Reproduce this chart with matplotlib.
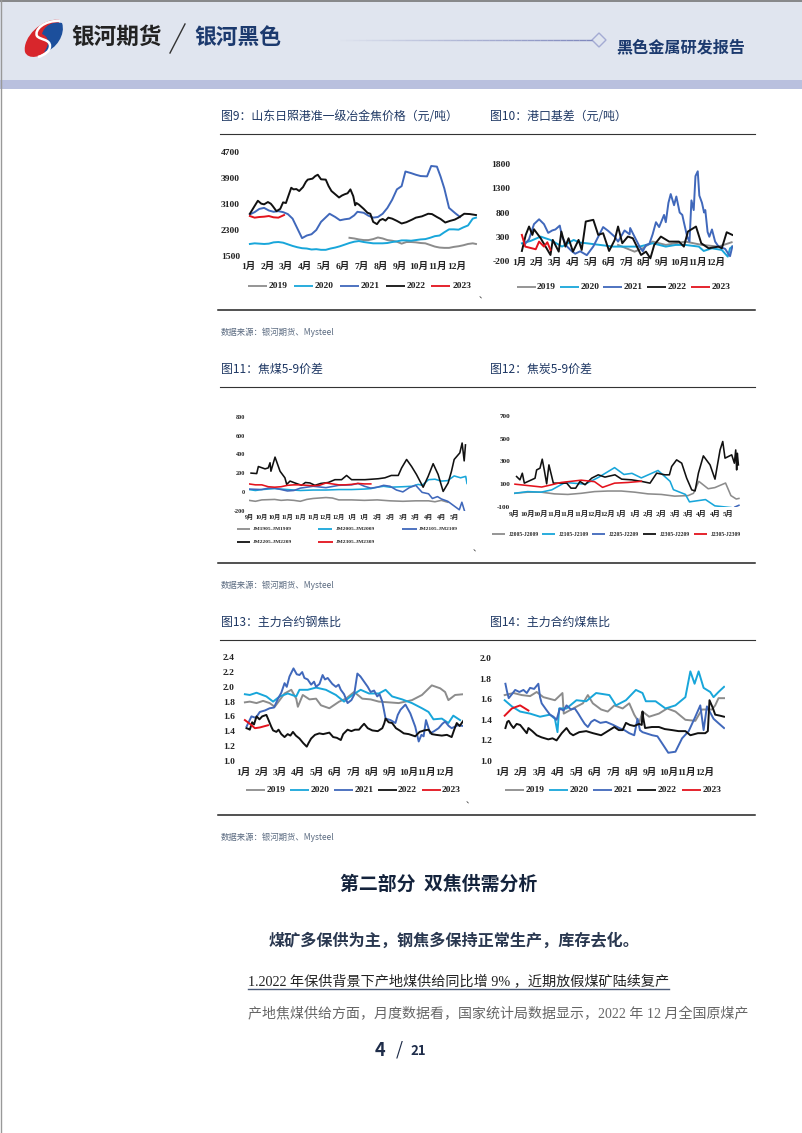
import numpy as np
import matplotlib
matplotlib.use('Agg')
import matplotlib.pyplot as plt
from matplotlib.patches import Polygon, PathPatch
from matplotlib.path import Path

cjk = ['Noto Sans CJK SC', 'DejaVu Sans']
serif = ['Liberation Serif', 'Noto Sans CJK SC']

GRAY = '#8c8c8c'
CYAN = '#18a6da'
BLUE = '#4068bb'
BLACK = '#111111'
RED = '#e3121c'
NAVY = '#1f3864'

months_12 = ['1月', '2月', '3月', '4月', '5月', '6月', '7月', '8月', '9月', '10月', '11月', '12月']
months_17 = ['9月', '10月', '10月', '11月', '11月', '11月', '12月', '12月', '1月', '1月', '2月', '2月',
             '3月', '3月', '4月', '4月', '5月']
years = ['2019', '2020', '2021', '2022', '2023']
jm_names = ['JM1905-JM1909', 'JM2005-JM2009', 'JM2105-JM2109', 'JM2205-JM2209', 'JM2305-JM2309']
j_names = ['J2005-J2009', 'J2105-J2109', 'J2205-J2209', 'J2305-J2209', 'J2305-J2309']

# Fig 9: coke price, month position then value
p19_m = [5.25, 5.5, 5.75, 6, 6.25, 6.5, 6.75, 7, 7.25, 7.5, 7.75, 8, 8.25, 8.5, 8.75, 9, 9.25, 9.5, 9.75, 10, 10.25, 10.5, 10.75, 11, 11.25, 11.5, 11.75, 11.92]
p19_v = [2060, 2040, 2010, 1990, 1990, 2020, 2070, 2040, 1990, 1970, 1940, 1880, 1930, 1930, 1920, 1900, 1890, 1840, 1790, 1760, 1750, 1750, 1780, 1800, 1830, 1870, 1890, 1870]
p20_m = [0, .25, .5, .75, 1, 1.25, 1.5, 1.75, 2, 2.25, 2.5, 2.75, 3, 3.25, 3.5, 3.75, 4, 4.25, 4.5, 4.75, 5, 5.25, 5.5, 5.75, 6, 6.25, 6.5, 6.75, 7, 7.25, 7.5, 7.75, 8, 8.25, 8.5, 8.75, 9, 9.25, 9.5, 9.75, 10, 10.25, 10.5, 10.75, 11, 11.25, 11.5, 11.75, 11.92]
p20_v = [1870, 1890, 1880, 1870, 1880, 1920, 1930, 1910, 1860, 1810, 1770, 1740, 1730, 1700, 1710, 1690, 1690, 1730, 1760, 1800, 1850, 1900, 1940, 1960, 1930, 1910, 1890, 1890, 1890, 1900, 1930, 1950, 1980, 1980, 1970, 1990, 2010, 2020, 2060, 2110, 2130, 2230, 2320, 2320, 2310, 2380, 2440, 2650, 2680]
p21_m = [0, .25, .5, .75, 1, 1.25, 1.5, 1.75, 2, 2.25, 2.5, 2.75, 3, 3.25, 3.5, 3.75, 4.2, 4.5, 4.75, 5, 5.25, 5.5, 5.67, 6, 6.25, 6.5, 6.75, 7, 7.25, 7.5, 7.75, 8, 8.2, 8.5, 8.75, 9, 9.34, 9.56, 9.86, 10.05, 10.25, 10.5, 10.82, 11.08]
p21_v = [2780, 2850, 2950, 2980, 2900, 2860, 2880, 2850, 2790, 2650, 2350, 2050, 2130, 2170, 2300, 2550, 2800, 2700, 2600, 2630, 2650, 2750, 2860, 2830, 2740, 2680, 2700, 2800, 2980, 3230, 3550, 3650, 4100, 4050, 4000, 3960, 3950, 4270, 4250, 3950, 3580, 2980, 2820, 2700]
p22_m = [0, .25, .42, .6, .75, .95, 1.1, 1.2, 1.4, 1.6, 1.75, 1.9, 2, 2.18, 2.3, 2.45, 2.6, 2.8, 2.95, 3.05, 3.3, 3.45, 3.58, 3.75, 4, 4.15, 4.3, 4.5, 4.7, 4.85, 5, 5.15, 5.3, 5.45, 5.55, 5.62, 5.75, 6, 6.2, 6.35, 6.5, 6.7, 6.85, 7, 7.15, 7.3, 7.5, 7.75, 8, 8.25, 8.55, 8.75, 9.07, 9.4, 9.6, 9.86, 10.05, 10.3, 10.55, 10.8, 11, 11.3, 11.6, 11.92]
p22_v = [2800, 3040, 3200, 3110, 3090, 3160, 3110, 3040, 2880, 2950, 3150, 3130, 3300, 3600, 3550, 3560, 3500, 3620, 3780, 3850, 3880, 3960, 4000, 3860, 3850, 3650, 3500, 3400, 3300, 3360, 3400, 3430, 3550, 3340, 3060, 3130, 3080, 2950, 2830, 2800, 2550, 2480, 2600, 2640, 2590, 2680, 2650, 2580, 2500, 2540, 2620, 2680, 2720, 2800, 2790, 2700, 2640, 2530, 2580, 2620, 2680, 2800, 2790, 2760]
p23_m = [0, .25, .5, .75, 1, 1.25, 1.5, 1.8]
p23_v = [2730, 2680, 2700, 2710, 2730, 2690, 2680, 2760]

# Fig 10: port basis
b19_m = [5.48, 5.95, 6.42, 6.89, 7.45, 8.2, 8.76, 9.32, 10.26, 11.2, 11.95]
b19_v = [131, 62, -7, 62, 200, 131, 166, 200, 131, 97, 186]
b20_m = [0, .5, 1.07, 1.63, 2.29, 2.95, 3.3, 3.7, 4.45, 5.2, 5.95, 6.7, 7.45, 8.2, 8.76, 9.32, 10.08, 10.36, 10.83, 11.39, 11.73, 11.86, 11.99]
b20_v = [165, 214, 303, 234, 97, 234, 180, 165, 131, 97, 97, 97, 165, 97, 131, 131, 97, 7, 62, 28, -110, 62, 97]
b21_m = [.13, .41, .69, .98, 1.26, 1.5, 1.73, 1.91, 2.16, 2.29, 2.57, 2.85, 3.04, 3.32, 3.7, 4.07, 4.35, 4.63, 4.92, 5.29, 5.48, 5.85, 6.14, 6.17, 6.42, 6.7, 6.89, 7.07, 7.26, 7.45, 7.64, 7.82, 8.1, 8.2, 8.35, 8.48, 8.67, 8.8, 8.99, 9.14, 9.23, 9.42, 9.55, 9.66, 9.79, 9.89, 10.02, 10.11, 10.26, 10.38, 10.45, 10.58, 10.68, 10.83, 11.01, 11.2, 11.58, 11.76, 11.86, 11.99]
b21_v = [130, 250, 560, 660, 560, 380, 430, 450, 530, 300, 100, 0, -50, 0, -80, 100, 300, 500, 420, 300, 200, 430, 350, 480, 300, 100, 0, 130, 150, 350, 600, 500, 750, 600, 1000, 1180, 950, 1130, 800, 750, 600, 300, 200, 1050, 850, 1550, 1650, 1150, 1000, 800, 850, 400, 300, 450, 200, 100, 50, -50, -100, 100]
b22_m = [0, .22, .41, .6, .69, 1.07, 1.35, 1.63, 1.76, 2.1, 2.25, 2.48, 2.66, 2.91, 3.23, 3.41, 3.64, 4.07, 4.35, 4.63, 4.97, 5.29, 5.48, 5.72, 6.04, 6.32, 6.79, 7.07, 7.32, 7.54, 7.92, 8.39, 8.95, 9.23, 9.46, 9.92, 10.22, 10.64, 11.2, 11.39, 11.67, 11.99]
b22_v = [7, 338, 511, 338, 455, 269, 97, -76, 235, -7, 407, 97, 269, -7, 235, 28, 614, 649, 338, 373, 7, 235, 511, 166, 304, 269, -76, -7, -145, 131, 304, 200, 200, 97, 407, 511, 166, 62, 97, 62, 393, 338]
b23_m = [0, .19, .79, .98, 1.26, 1.45, 1.63]
b23_v = [338, 97, 42, 200, 97, 186, 28]

# Fig 11: coking coal 5-9 spread, position in tick-label units
jm19_i = [0, .5, 1, 2, 2.5, 3, 3.5, 4, 4.5, 5, 6, 6.5, 7, 8, 9, 10, 11, 12, 13, 14, 14.5, 15, 15.5]
jm19_v = [-90, -100, -85, -80, -90, -85, -90, -100, -80, -70, -60, -65, -85, -85, -90, -85, -95, -100, -95, -95, -105, -90, -110]
jm20_i = [0, .5, 1, 2, 3, 4, 5, 6, 7, 8, 9, 9.5, 10, 10.5, 11, 12, 12.7, 13.2, 13.5, 14, 14.5, 15, 15.5, 16, 16.5, 16.9, 17]
jm20_v = [25, 15, 25, 35, 25, 15, 20, 20, 25, 25, 30, 35, 50, 60, 50, 55, 60, 80, 70, 130, 135, 115, 120, 170, 150, 165, 90]
jm21_i = [0, 1, 1.5, 2, 3, 3.5, 4, 5, 6, 7, 8, 8.5, 9, 9.5, 10, 10.5, 11, 11.5, 12, 12.5, 13, 13.5, 14, 14.3, 14.7, 15, 15.5, 16, 16.4, 16.6, 16.8]
jm21_v = [30, 25, 40, 40, 10, 15, 40, 60, 45, 70, 75, 90, 60, 40, 50, 70, 60, 20, 0, 45, 70, -5, -20, -70, -50, -75, -100, -150, -190, -110, -200]
jm22_i = [.16, .6, .73, 1.25, 1.5, 1.64, 1.71, 2.03, 2.42, 2.8, 2.94, 3.2, 3.58, 4.1, 4.4, 4.75, 5.14, 5.6, 6.18, 6.7, 7.22, 7.61, 8, 9.04, 10.08, 10.6, 11.1, 11.64, 11.9, 12.29, 12.68, 13.06, 13.58, 13.97, 14.36, 14.75, 15.14, 15.53, 15.79, 16, 16.44, 16.62, 16.78, 16.88]
jm22_v = [200, 195, 270, 245, 255, 310, 220, 370, 220, 150, 80, 115, 95, 70, 100, 95, 70, 90, 100, 130, 130, 175, 130, 130, 140, 150, 175, 175, 255, 345, 270, 185, 50, 165, 300, 185, 5, 95, 220, 345, 415, 520, 330, 500]
jm23_i = [0, .5, 1, 1.5, 2, 2.5, 3, 3.5, 4, 4.5, 5, 5.5, 6, 6.5, 7, 7.5, 8, 8.5, 9, 9.5]
jm23_v = [85, 75, 75, 55, 50, 55, 70, 75, 75, 70, 65, 70, 95, 85, 75, 75, 80, 90, 85, 85]

# Fig 12: coke 5-9 spread
j20_i = [0, 1, 2, 3, 4, 5, 6, 7, 8, 9, 10, 11, 12, 13, 13.4, 13.8, 14.5, 15, 15.8, 16.2, 16.6, 16.8]
j20_v = [20, 30, 30, 15, 10, 20, 35, 40, 40, 30, 15, 10, -5, 0, 20, 125, 60, 70, 110, 0, -30, -25]
j21_i = [0, 1, 2, 2.8, 3.8, 5.3, 6.3, 7.5, 8.2, 8.8, 9.5, 10.75, 11.65, 11.9, 12.8, 13.1, 14.3, 15, 16.2]
j21_v = [20, 35, 30, 50, 115, 100, 160, 245, 185, 195, 155, 220, 125, 52, 10, -55, -35, -90, -105]
j22_i = [16.5, 16.8]
j22_v = [-100, -85]
j23_i = [.17, .42, .6, .75, 1.55, 1.67, 1.92, 2.09, 2.24, 2.42, 2.59, 2.92, 3.54, 3.92, 4.24, 4.59, 4.91, 5.29, 5.79, 6.28, 6.78, 7.53, 8.03, 8.78, 9.53, 10.15, 10.65, 11.27, 11.6, 11.77, 12.14, 12.52, 12.89, 13.27, 13.52, 13.77, 14.14, 14.64, 15.01, 15.39, 15.59, 15.76, 16.26, 16.46, 16.56, 16.63, 16.68, 16.76]
j23_v = [167, 138, 196, 109, 152, 225, 240, 319, 225, 103, 269, 109, 109, 109, 65, 65, 124, 95, 153, 182, 162, 182, 144, 138, 124, 109, 197, 182, 182, 255, 313, 284, 153, 50, 41, 197, 348, 269, 144, 400, 474, 328, 357, 284, 400, 225, 371, 269]
j24_i = [.05, 2.05, 2.8, 3.5, 5, 6, 6.6, 7.5, 8.5, 9.5]
j24_v = [100, 75, 95, 115, 135, 122, 72, 109, 115, 125]

# Fig 13: rebar / coke ratio
s19_m = [0, .27, .64, 1, 1.36, 1.64, 1.91, 2.18, 2.55, 2.82, 2.91, 3.18, 3.55, 3.91, 4.18, 4.64, 5.18, 5.55, 6, 6.45, 6.91, 7.36, 7.91, 8.45, 9.18, 9.73, 10.27, 10.73, 11, 11.18, 11.55, 12]
s19_v = [1.79, 1.80, 1.78, 1.81, 1.78, 1.73, 1.82, 1.91, 1.96, 1.84, 1.73, 1.89, 1.83, 1.84, 1.75, 1.71, 1.80, 1.84, 1.93, 1.84, 1.83, 1.80, 1.79, 1.78, 1.82, 1.89, 2.02, 1.98, 1.93, 1.82, 1.89, 1.90]
s20_m = [0, .27, .64, 1.18, 1.55, 1.91, 2.36, 2.82, 3, 3.45, 3.91, 4.45, 5, 5.45, 5.91, 6.36, 6.82, 7.36, 7.73, 8.09, 8.64, 9.18, 9.73, 10.09, 10.36, 10.82, 11.18, 11.45, 11.82]
s20_v = [1.90, 1.89, 1.92, 1.87, 1.80, 1.87, 1.91, 1.87, 1.96, 1.96, 1.99, 1.96, 1.89, 1.80, 1.89, 1.96, 1.91, 1.91, 1.96, 1.87, 1.83, 1.78, 1.71, 1.66, 1.56, 1.57, 1.51, 1.61, 1.55]
s21_m = [.09, .36, .6, .82, 1.1, 1.36, 1.6, 1.82, 2, 2.18, 2.3, 2.45, 2.67, 2.85, 3, 3.15, 3.27, 3.45, 3.64, 3.8, 3.91, 4.1, 4.27, 4.4, 4.55, 4.8, 5, 5.15, 5.27, 5.45, 5.64, 5.85, 6, 6.18, 6.35, 6.55, 6.75, 6.91, 7.1, 7.27, 7.4, 7.55, 7.73, 8, 8.27, 8.4, 8.55, 8.82, 9.09, 9.36, 9.55, 9.7, 9.82, 9.95, 10.18, 10.4, 10.64, 10.85, 11, 11.2, 11.36, 11.7, 12]
s21_v = [1.46, 1.60, 1.58, 1.66, 1.68, 1.71, 1.72, 1.84, 1.92, 2.05, 2.00, 2.14, 2.25, 2.17, 2.16, 2.20, 2.12, 2.10, 2.03, 2.07, 2.0, 2.04, 2.16, 2.10, 2.12, 2.04, 2.0, 2.03, 1.96, 1.90, 1.78, 1.82, 1.89, 2.18, 2.14, 2.07, 2.00, 1.93, 1.95, 1.87, 1.90, 1.80, 1.57, 1.55, 1.51, 1.62, 1.69, 1.76, 1.64, 1.46, 1.26, 1.35, 1.33, 1.55, 1.37, 1.40, 1.44, 1.50, 1.53, 1.47, 1.44, 1.48, 1.47]
s22_m = [.09, .2, .27, .4, .5, .64, .8, .95, 1.18, 1.3, 1.45, 1.55, 1.73, 1.85, 2, 2.18, 2.35, 2.5, 2.64, 2.8, 3, 3.2, 3.4, 3.5, 3.64, 3.85, 4.09, 4.3, 4.64, 4.85, 5.05, 5.27, 5.4, 5.64, 5.85, 6.05, 6.27, 6.4, 6.55, 6.75, 7, 7.3, 7.55, 7.65, 7.73, 7.9, 8.09, 8.3, 8.5, 8.73, 9, 9.36, 9.6, 9.85, 10.09, 10.27, 10.5, 10.82, 11.1, 11.36, 11.5, 11.64, 11.8, 12]
s22_v = [1.44, 1.43, 1.42, 1.52, 1.49, 1.60, 1.56, 1.60, 1.62, 1.55, 1.46, 1.41, 1.39, 1.42, 1.36, 1.32, 1.36, 1.34, 1.39, 1.34, 1.30, 1.24, 1.19, 1.24, 1.30, 1.35, 1.37, 1.36, 1.38, 1.32, 1.31, 1.28, 1.36, 1.42, 1.40, 1.42, 1.42, 1.46, 1.50, 1.44, 1.41, 1.40, 1.44, 1.50, 1.57, 1.52, 1.51, 1.44, 1.41, 1.37, 1.36, 1.33, 1.39, 1.41, 1.42, 1.36, 1.35, 1.34, 1.35, 1.32, 1.42, 1.51, 1.47, 1.54]
s23_m = [0, .27, .55, .82, 1.27]
s23_v = [1.55, 1.50, 1.44, 1.45, 1.48]

# Fig 14: coal / coke ratio
c19_m = [0, .48, .93, 1.38, 1.74, 2.1, 2.73, 3.14, 3.21, 3.72, 4.25, 4.52, 4.79, 5.24, 5.6, 5.96, 6.41, 6.77, 7.04, 7.31, 7.49, 7.85, 8.38, 8.83, 9.28, 9.82, 10.36, 10.72, 11.26, 11.44, 11.62, 11.92]
c19_v = [1.64, 1.66, 1.64, 1.63, 1.67, 1.62, 1.59, 1.66, 1.46, 1.51, 1.56, 1.64, 1.56, 1.50, 1.48, 1.54, 1.51, 1.56, 1.45, 1.37, 1.48, 1.43, 1.46, 1.51, 1.48, 1.40, 1.39, 1.50, 1.50, 1.54, 1.61, 1.61]
c20_m = [0, .39, .84, 1.38, 1.92, 2.46, 2.73, 2.87, 2.96, 3.36, 3.9, 4.43, 4.97, 5.69, 6.05, 6.59, 7.13, 7.49, 7.67, 8.2, 8.74, 9.28, 9.82, 10.09, 10.32, 10.54, 10.81, 11.17, 11.35, 11.62, 11.92]
c20_v = [1.59, 1.53, 1.48, 1.46, 1.43, 1.45, 1.41, 1.28, 1.51, 1.51, 1.59, 1.58, 1.66, 1.64, 1.54, 1.59, 1.69, 1.66, 1.58, 1.58, 1.51, 1.54, 1.62, 1.87, 1.75, 1.87, 1.71, 1.67, 1.62, 1.67, 1.72]
c21_m = [.04, .12, .22, .4, .57, .8, 1.02, 1.2, 1.38, 1.6, 1.83, 1.92, 2.01, 2.25, 2.46, 2.65, 2.82, 3, 3.2, 3.36, 3.6, 3.81, 4, 4.17, 4.35, 4.52, 4.7, 4.88, 5.2, 5.51, 5.9, 6.23, 6.5, 6.77, 7.04, 7.22, 7.35, 7.49, 8.02, 8.3, 8.56, 8.89, 9.28, 9.64, 10, 10.36, 10.63, 10.81, 10.99, 11.35, 11.6, 11.92]
c21_v = [1.75, 1.68, 1.61, 1.65, 1.69, 1.67, 1.69, 1.66, 1.71, 1.70, 1.75, 1.62, 1.56, 1.50, 1.45, 1.43, 1.40, 1.51, 1.49, 1.54, 1.50, 1.51, 1.46, 1.41, 1.36, 1.33, 1.38, 1.40, 1.37, 1.38, 1.35, 1.32, 1.30, 1.27, 1.25, 1.41, 1.30, 1.28, 1.25, 1.24, 1.17, 1.08, 1.09, 1.22, 1.29, 1.43, 1.54, 1.30, 1.53, 1.41, 1.37, 1.32]
c22_m = [.04, .14, .22, .35, .48, .65, .84, 1.02, 1.2, 1.29, 1.5, 1.74, 2, 2.37, 2.6, 2.82, 3.1, 3.36, 3.55, 3.72, 4.05, 4.43, 4.8, 5.24, 5.6, 5.96, 6.2, 6.41, 6.59, 6.8, 7.04, 7.3, 7.45, 7.49, 7.53, 7.63, 8, 8.38, 8.7, 9.1, 9.45, 9.82, 10.09, 10.5, 10.9, 11.04, 11.13, 11.3, 11.44, 11.7, 11.92]
c22_v = [1.32, 1.38, 1.39, 1.35, 1.32, 1.36, 1.35, 1.31, 1.27, 1.32, 1.29, 1.25, 1.23, 1.21, 1.22, 1.20, 1.27, 1.32, 1.27, 1.25, 1.28, 1.29, 1.27, 1.25, 1.29, 1.33, 1.30, 1.30, 1.37, 1.35, 1.34, 1.36, 1.35, 1.48, 1.42, 1.32, 1.33, 1.33, 1.31, 1.30, 1.29, 1.29, 1.25, 1.27, 1.27, 1.29, 1.59, 1.52, 1.45, 1.44, 1.43]
c23_m = [0, .39, .84, 1.29]
c23_v = [1.44, 1.51, 1.54, 1.49]

W, H = 802, 1133
fig = plt.figure(figsize=(W / 100, H / 100), dpi=100)
bg = fig.add_axes([0, 0, 1, 1])
bg.set_xlim(0, W)
bg.set_ylim(H, 0)
bg.axis('off')

# header band
bg.fill_between([0, W], 0, 80, color='#e0e5ef', lw=0)
bg.fill_between([0, W], 80, 89, color='#b9c0de', lw=0)
bg.plot([0, W], [0.5, 0.5], color='#777777', lw=1.2)
bg.plot([0.5, 0.5], [0, H], color='#999999', lw=1)

# logo
bg.add_patch(PathPatch(Path([(60, 20), (42, 17), (22, 38), (25, 52), (28, 60), (42, 58), (49, 48), (52, 40), (60, 20)],
                            [1, 4, 4, 4, 4, 4, 4, 2, 2]), color='#d8262c', lw=0))
bg.add_patch(PathPatch(Path([(62, 23), (66, 34), (56, 50), (44, 52), (50, 44), (49, 37), (42, 34), (44, 26), (52, 21), (62, 23)],
                            [1, 4, 4, 4, 4, 4, 4, 4, 4, 4]), color='#1c4f9c', lw=0))
bg.add_patch(PathPatch(Path([(60, 21), (44, 20), (34, 30), (37, 36), (40, 40), (50, 39), (50, 46), (50, 51), (45, 55), (38, 57)],
                            [1, 4, 4, 4, 4, 4, 4, 4, 4, 4]), fc='none', ec='white', lw=1.8))
bg.text(71, 37, '银河期货', family=cjk, fontsize=16.3, weight='bold', color='#222222', va='center')
bg.plot([170, 185], [53, 24], color='#333333', lw=1)
bg.text(194, 37, '银河黑色', family=cjk, fontsize=15.7, weight='bold', color='#1c3a6e', va='center')
xs = np.linspace(340, 592, 40)
for k in range(39):
    bg.plot(xs[k:k + 2], [40, 40], color='#7f88bd', lw=1, alpha=(k + 1) / 39, solid_capstyle='butt')
bg.add_patch(Polygon([(592, 40), (599, 33), (606, 40), (599, 47)], fc='#e0e5ef', ec='#a4abd3', lw=1))
bg.text(616, 47.5, '黑色金属研发报告', family=cjk, fontsize=11.6, weight='bold', color='#1c3a6e', va='center')


def add_legend(items, text_size):
    # items: key start, key end, text start, row y, colour, text
    for x0, x1, tx, y, col, name in items:
        bg.plot([x0, x1], [y, y], color=col, lw=1.3, solid_capstyle='butt')
        bg.text(tx, y, name, family=serif, fontsize=text_size, weight='bold', color='#222222', va='center')


def add_chart(series, box, ylim, yticks, xlabels, xunit_end, lab0, lab1, size, xpad, ypad, lw=1.4, fmt='%g'):
    # box: left, top, right, bottom of the plotting area in page pixels
    left, top, right, bottom = box
    ax = fig.add_axes([left / W, 1 - bottom / H, (right - left) / W, (bottom - top) / H])
    ax.patch.set_alpha(0)
    for x, y, col in series:
        ax.plot(x, y, color=col, lw=lw, solid_joinstyle='round')
    ax.set_xlim(0, xunit_end)
    ax.set_ylim(*ylim)
    per = (right - left) / xunit_end
    ax.set_xticks((np.linspace(lab0, lab1, len(xlabels)) - left) / per)
    ax.set_xticklabels(xlabels, family=serif, fontsize=size, weight='bold', color='#222222')
    ax.set_yticks(yticks)
    ax.set_yticklabels([fmt % t for t in yticks], family=serif, fontsize=size, weight='bold', color='#222222')
    ax.tick_params(axis='x', length=0, pad=xpad)
    ax.tick_params(axis='y', length=0, pad=ypad)
    for s in ax.spines.values():
        s.set_visible(False)
    return ax


cols = [GRAY, CYAN, BLUE, BLACK, RED]

add_chart(list(zip([p19_m, p20_m, p21_m, p22_m, p23_m], [p19_v, p20_v, p21_v, p22_v, p23_v], cols)),
          (248.3, 152, 477.5, 256), (1500, 4700), [1500, 2300, 3100, 3900, 4700], months_12, 12,
          246.7, 456.7, 6.8, 4.5, 6)
add_chart(list(zip([b19_m, b20_m, b21_m, b22_m, b23_m], [b19_v, b20_v, b21_v, b22_v, b23_v], cols)),
          (519.3, 164, 732.5, 261), (-200, 1800), [-200, 300, 800, 1300, 1800], months_12, 12,
          516.7, 715, 6.8, -2.5, 6.5)
add_chart(list(zip([jm19_i, jm20_i, jm21_i, jm22_i, jm23_i], [jm19_v, jm20_v, jm21_v, jm22_v, jm23_v], cols)),
          (249, 416.7, 467, 510.7), (-200, 800), [-200, 0, 200, 400, 600, 800], months_17, 17,
          249, 454.3, 4.4, 2.2, 3, lw=1.15)
add_chart(list(zip([j20_i, j21_i, j22_i, j23_i, j24_i], [j20_v, j21_v, j22_v, j23_v, j24_v], cols)),
          (514.3, 415.7, 741.6, 507), (-100, 700), [-100, 100, 300, 500, 700], months_17, 17,
          514.3, 728.3, 5.2, 2.2, 3, lw=1.15)
add_chart(list(zip([s19_m, s20_m, s21_m, s22_m, s23_m], [s19_v, s20_v, s21_v, s22_v, s23_v], cols)),
          (243.3, 657.3, 463.3, 760.7), (1.0, 2.4), [1.0, 1.2, 1.4, 1.6, 1.8, 2.0, 2.2, 2.4], months_12, 12,
          241.7, 445, 6.8, 5, 6, fmt='%.1f')
add_chart(list(zip([c19_m, c20_m, c21_m, c22_m, c23_m], [c19_v, c20_v, c21_v, c22_v, c23_v], cols)),
          (502.7, 658, 725.5, 761), (1.0, 2.0), [1.0, 1.2, 1.4, 1.6, 1.8, 2.0], months_12, 12,
          500.7, 705, 6.8, 5, 8, fmt='%.1f')


def year_rows(keys, texts, y):
    return [(k, k + 19, t, y, c, n) for k, t, c, n in zip(keys, texts, cols, years)]


add_legend(year_rows([248, 294, 340, 386, 431], [269, 315, 361, 407, 453], 285.7), 6.8)
add_legend(year_rows([517, 560, 603, 647, 691], [537, 581, 624, 668, 712], 286.7), 6.8)
add_legend(year_rows([246, 290, 334, 378, 422], [267, 311, 355, 398, 442], 790), 6.8)
add_legend(year_rows([505, 549, 593, 637, 682], [526, 570, 614, 658, 703], 790), 6.8)
add_legend([(237, 250, 253, 529, GRAY, jm_names[0]), (318, 332, 336, 529, CYAN, jm_names[1]),
            (402, 417, 419, 529, BLUE, jm_names[2]), (237, 250, 253, 542, BLACK, jm_names[3]),
            (318, 333, 336, 542, RED, jm_names[4])], 3.9)
add_legend([(k, k + 13, t, 534, c, n) for k, t, c, n in
            zip([492, 542, 592, 643, 694], [509, 559, 609, 660, 711], cols, j_names)], 4.1)

# section titles, rules and source lines
titles = [(221, 117, '图9：山东日照港准一级冶金焦价格（元/吨）'), (490, 117, '图10：港口基差（元/吨）'),
          (221, 369, '图11：焦煤5-9价差'), (490, 369, '图12：焦炭5-9价差'),
          (221, 622, '图13：主力合约钢焦比'), (490, 622, '图14：主力合约煤焦比')]
for x, y, t in titles:
    bg.text(x, y, t, family=cjk, fontsize=8.6, color=NAVY, va='center')
for y in [134, 387, 640]:
    bg.plot([220, 755], [y, y], color='#333333', lw=0.8)
for y in [310, 563, 815]:
    bg.plot([218, 755], [y, y], color='#222222', lw=1.1)
for y in [332, 585, 837]:
    bg.text(221, y, '数据来源：银河期货、Mysteel', family=cjk, fontsize=6, color='#5a6a80', va='center')
for x, y in [(483, 296), (477, 549), (470, 801)]:
    bg.text(x, y, '、', family=cjk, fontsize=6, color='#333333', ha='center', va='center')

bg.text(438.5, 884, '第二部分  双焦供需分析', family=cjk, fontsize=13.6, weight='bold', color='#14233c',
        ha='center', va='center')
bg.text(268.5, 941, '煤矿多保供为主，钢焦多保持正常生产，库存去化。', family=cjk, fontsize=11.6, weight='bold',
        color='#2a3850', va='center')
bg.text(248, 982, '1.2022 年保供背景下产地煤供给同比增 9% ，近期放假煤矿陆续复产', family=serif, fontsize=10.15,
        color='#222222', va='center')
bg.plot([248, 669], [989, 989], color='#4a5a78', lw=1)
bg.text(248, 1014, '产地焦煤供给方面，月度数据看，国家统计局数据显示，2022 年 12 月全国原煤产', family=serif,
        fontsize=10.05, color='#666666', va='center')
bg.text(380, 1050, '4', family=cjk, fontsize=13, weight='bold', color='#1f2d4a', ha='center', va='center')
bg.text(399, 1050, '/', family=cjk, fontsize=13, color='#1f2d4a', ha='center', va='center')
bg.text(418, 1051, '21', family=cjk, fontsize=9.5, weight='bold', color='#1f2d4a', ha='center', va='center')

fig.savefig('out.png', dpi=100)
